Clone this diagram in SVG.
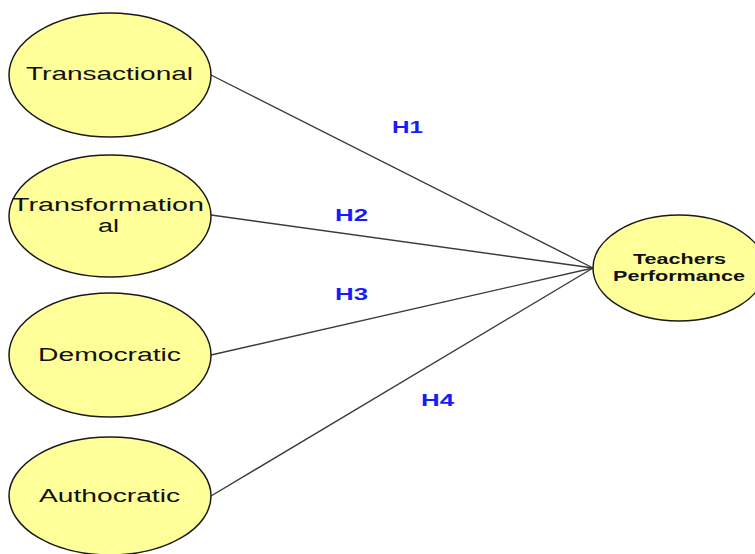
<svg xmlns="http://www.w3.org/2000/svg" width="755" height="554" viewBox="0 0 755 554">
<style>
.node ellipse{fill:#ffff99;stroke:#1a1a1a;stroke-width:1.5}
.lbl{font-family:"Liberation Sans",Arial,sans-serif;font-size:18px;fill:#111;text-anchor:start}
.tp{font-family:"Liberation Sans",Arial,sans-serif;font-size:15px;font-weight:bold;fill:#111}
.h{font-family:"Liberation Sans",Arial,sans-serif;font-size:16px;font-weight:bold;fill:#1a1aff}
.conn line{stroke:#3a3a3a;stroke-width:1.4}
</style>
<rect width="755" height="554" fill="#ffffff"/>
<g id="connectors" class="conn">
<line x1="211" y1="75" x2="593" y2="268"/>
<line x1="211" y1="215" x2="593" y2="268" stroke="#111"/>
<line x1="211" y1="355" x2="593" y2="268" stroke="#111"/>
<line x1="211" y1="496" x2="593" y2="268"/>
</g>
<g id="n-transactional" class="node">
<ellipse cx="110" cy="75" rx="101" ry="62"/>
<text class="lbl" x="26" y="80" textLength="167" lengthAdjust="spacingAndGlyphs">Transactional</text>
</g>
<g id="n-transformational" class="node">
<ellipse cx="110" cy="216" rx="101" ry="61"/>
<text class="lbl" x="12" y="211" textLength="192" lengthAdjust="spacingAndGlyphs">Transformation</text>
<text class="lbl" x="98" y="232" textLength="21" lengthAdjust="spacingAndGlyphs">al</text>
</g>
<g id="n-democratic" class="node">
<ellipse cx="110" cy="355" rx="101" ry="62"/>
<text class="lbl" x="38" y="361" textLength="143" lengthAdjust="spacingAndGlyphs">Democratic</text>
</g>
<g id="n-authocratic" class="node">
<ellipse cx="110" cy="496" rx="101" ry="59"/>
<text class="lbl" x="39" y="502" textLength="141" lengthAdjust="spacingAndGlyphs">Authocratic</text>
</g>
<g id="n-teachers" class="node">
<ellipse cx="679" cy="268" rx="86" ry="53"/>
<text class="tp" x="633" y="264" textLength="93" lengthAdjust="spacingAndGlyphs">Teachers</text>
<text class="tp" x="613" y="281" textLength="132" lengthAdjust="spacingAndGlyphs">Performance</text>
</g>
<g id="labels">
<text class="h" x="392" y="133" textLength="31" lengthAdjust="spacingAndGlyphs">H1</text>
<text class="h" x="335" y="221" textLength="33" lengthAdjust="spacingAndGlyphs">H2</text>
<text class="h" x="335" y="300" textLength="33" lengthAdjust="spacingAndGlyphs">H3</text>
<text class="h" x="421" y="406" textLength="33" lengthAdjust="spacingAndGlyphs">H4</text>
</g>
</svg>
